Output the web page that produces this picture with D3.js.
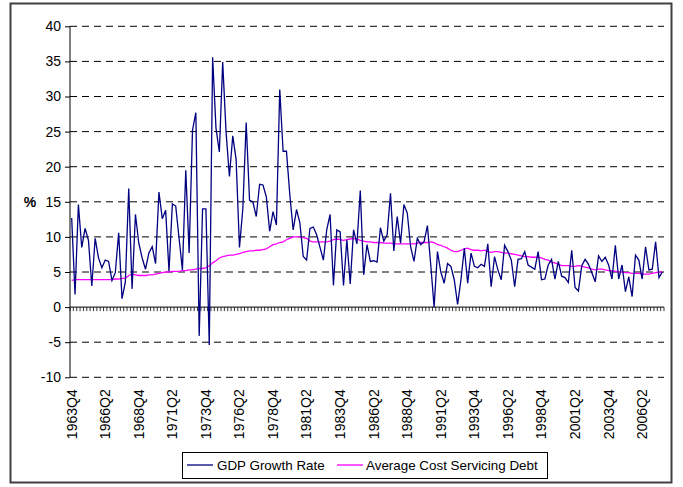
<!DOCTYPE html>
<html>
<head>
<meta charset="utf-8">
<script src="https://cdn.jsdelivr.net/npm/d3@7"></script>
<style>
  html, body { margin: 0; padding: 0; background: #fff; }
  svg { display: block; }
  text { font-family: Arial, "Liberation Sans", sans-serif; }
</style>
</head>
<body>
<svg id="chart" width="683" height="487"></svg>
<script>
// ---------- DATA ----------
const startYear = 1963;
const startQuarter = 4;
const gdpGrowth = [
  12.7, 1.8, 14.6, 8.5, 11.2, 9.5, 3.0, 9.8, 7.0, 5.6,
  6.7, 6.5, 3.8, 4.9, 10.6, 1.2, 3.6, 16.9, 2.6, 13.2,
  9.1, 7.0, 5.4, 7.7, 8.6, 6.2, 16.4, 12.6, 13.8, 5.1,
  14.7, 14.4, 9.8, 5.3, 19.5, 7.7, 25.2, 27.7, -4.1, 14.0,
  14.0, -5.4, 35.6, 25.5, 22.1, 34.9, 25.0, 18.6, 24.4, 21.0,
  8.5, 14.0, 26.3, 15.2, 15.0, 12.9, 17.5, 17.4, 15.7, 10.8,
  13.6, 11.7, 31.0, 22.2, 22.2, 16.0, 11.0, 13.9, 12.0, 7.2,
  6.7, 11.2, 11.4, 10.3, 8.5, 6.7, 11.0, 13.2, 3.1, 11.0,
  10.7, 3.1, 9.6, 3.3, 11.0, 9.0, 16.6, 4.6, 8.9, 6.5,
  6.6, 6.4, 11.3, 9.4, 10.3, 16.2, 8.0, 12.9, 9.1, 14.6,
  13.4, 8.6, 6.5, 9.8, 8.9, 9.3, 11.6, 6.0, 0.0, 7.9,
  5.0, 3.4, 6.2, 5.8, 3.9, 0.4, 3.9, 8.4, 3.4, 7.7,
  5.8, 5.6, 6.1, 5.8, 9.0, 2.9, 7.2, 5.3, 3.9, 8.8,
  7.9, 6.7, 2.9, 6.8, 6.9, 7.9, 6.0, 5.7, 5.4, 7.9,
  3.9, 4.0, 6.0, 6.8, 4.0, 6.5, 4.4, 4.2, 3.5, 8.1,
  2.8, 2.3, 5.9, 6.8, 6.1, 4.9, 3.6, 7.3, 6.5, 7.1,
  6.0, 4.0, 8.8, 4.0, 6.0, 2.2, 4.3, 1.5, 7.4, 6.7,
  4.0, 8.6, 5.3, 5.4, 9.3, 4.2, 5.0
];
const avgCostDebt = [
  3.8, 3.9, 3.9, 3.9, 3.9, 3.9, 3.9, 3.9, 3.9, 3.9,
  3.9, 3.9, 3.9, 4.0, 4.0, 4.1, 4.1, 4.5, 4.7, 4.6,
  4.5, 4.5, 4.5, 4.6, 4.6, 4.7, 4.8, 4.9, 5.0, 5.0,
  5.1, 5.1, 5.1, 5.2, 5.2, 5.3, 5.3, 5.4, 5.5, 5.5,
  5.6, 5.9, 6.3, 6.6, 7.0, 7.2, 7.3, 7.4, 7.4, 7.5,
  7.6, 7.8, 7.9, 8.0, 8.0, 8.1, 8.1, 8.2, 8.3, 8.6,
  8.9, 9.0, 9.2, 9.3, 9.6, 9.8, 10.0, 10.0, 10.0, 9.9,
  9.8, 9.4, 9.3, 9.3, 9.3, 9.3, 9.3, 9.4, 9.6, 9.7,
  9.6, 9.5, 9.6, 9.7, 9.8, 9.7, 9.5, 9.4, 9.3, 9.3,
  9.2, 9.2, 9.2, 9.1, 9.1, 9.1, 9.0, 9.0, 9.0, 9.0,
  9.0, 9.0, 9.0, 9.1, 9.2, 9.2, 9.2, 9.3, 9.2, 8.9,
  8.8, 8.6, 8.4, 8.1, 7.9, 7.9, 8.1, 8.3, 8.4, 8.2,
  8.1, 8.1, 8.0, 8.1, 7.9, 7.8, 7.9, 7.9, 7.8, 7.7,
  7.7, 7.6, 7.5, 7.4, 7.3, 7.2, 7.2, 7.1, 7.1, 7.1,
  7.0, 6.8, 6.7, 6.4, 6.3, 6.1, 5.9, 5.9, 5.9, 5.8,
  5.8, 5.9, 5.8, 5.7, 5.6, 5.4, 5.3, 5.4, 5.4, 5.3,
  5.2, 5.2, 5.1, 5.0, 5.0, 4.9, 4.9, 4.8, 4.8, 4.8,
  4.7, 4.7, 4.7, 4.8, 4.9, 5.0, 5.0
];
const tickLabels = ["1963Q4","1966Q2","1968Q4","1971Q2","1973Q4","1976Q2","1978Q4","1981Q2","1983Q4","1986Q2","1988Q4","1991Q2","1993Q4","1996Q2","1998Q4","2001Q2","2003Q4","2006Q2"];
const yTicks = [-10, -5, 0, 5, 10, 15, 20, 25, 30, 35, 40];
const seriesNames = ["GDP Growth Rate", "Average Cost Servicing Debt"];
const seriesColors = ["#000080", "#FF00FF"];

// categories (quarters)
const categories = [];
{
  let yr = startYear, q = startQuarter;
  for (let i = 0; i < gdpGrowth.length; i++) {
    categories.push(yr + "Q" + q);
    q++; if (q > 4) { q = 1; yr++; }
  }
}

// ---------- LAYOUT ----------
const FS = 14;
const LFS = 13.4;
const svg = d3.select("#chart");
const plot = { left: 70, right: 664, top: 26.3, bottom: 377.3 };

svg.append("rect").attr("x", 0).attr("y", 0).attr("width", 683).attr("height", 487).attr("fill", "#fff");
// outer chart border
svg.append("rect")
  .attr("x", 10.5).attr("y", 3.5).attr("width", 661).attr("height", 479)
  .attr("fill", "none").attr("stroke", "#404040").attr("stroke-width", 2);

const x = d3.scaleBand().domain(categories).range([plot.left, plot.right]).padding(0);
const y = d3.scaleLinear().domain([-10, 40]).range([plot.bottom, plot.top]);
const cx = c => x(c) + x.bandwidth() / 2;

// gridlines
svg.append("g").selectAll("line")
  .data(yTicks.filter(t => t !== 0))
  .join("line")
  .attr("x1", plot.left).attr("x2", plot.right)
  .attr("y1", d => y(d)).attr("y2", d => y(d))
  .attr("stroke", "#000").attr("stroke-width", 1)
  .attr("stroke-dasharray", "7,5");

// y axis
const yAxis = d3.axisLeft(y).tickValues(yTicks).tickSize(5).tickPadding(4).tickFormat(d => String(d));
const gy = svg.append("g").attr("transform", `translate(${plot.left},0)`).call(yAxis);
gy.select(".domain").attr("stroke", "#000").attr("d", `M0,${plot.top}V${plot.bottom}`);
gy.selectAll(".tick line").attr("stroke", "#000");
gy.selectAll(".tick text").attr("font-size", FS).attr("fill", "#000")
  .attr("font-family", "Arial, 'Liberation Sans', sans-serif");

// x axis at y=0 with ticks at category boundaries
const gx = svg.append("g").attr("transform", `translate(0,${y(0)})`);
gx.append("line").attr("x1", plot.left).attr("x2", plot.right).attr("y1", 0).attr("y2", 0)
  .attr("stroke", "#000").attr("stroke-width", 1);
const boundaries = categories.map(c => x(c)).concat([plot.right]);
gx.selectAll("line.tk").data(boundaries).join("line").attr("class", "tk")
  .attr("x1", d => d).attr("x2", d => d).attr("y1", 0).attr("y2", 4)
  .attr("stroke", "#000").attr("stroke-width", 0.8);

// x tick labels (rotated)
svg.append("g").selectAll("text")
  .data(tickLabels)
  .join("text")
  .attr("transform", d => `translate(${cx(d)},${plot.bottom + 12}) rotate(-90)`)
  .attr("text-anchor", "end")
  .attr("dy", "0.35em")
  .attr("font-size", FS)
  .attr("fill", "#000")
  .text(d => d);

// % label
svg.append("text").attr("x", 30).attr("y", y(15)).attr("dy", "0.35em")
  .attr("text-anchor", "middle").attr("font-size", FS).attr("font-weight", "bold").text("%");

// lines
const line = d3.line().x((d, i) => cx(categories[i])).y(d => y(d));
svg.append("path").datum(avgCostDebt).attr("d", line)
  .attr("fill", "none").attr("stroke", seriesColors[1]).attr("stroke-width", 1.3);
svg.append("path").datum(gdpGrowth).attr("d", line)
  .attr("fill", "none").attr("stroke", seriesColors[0]).attr("stroke-width", 1.3)
  .attr("stroke-linejoin", "miter");

// legend
const lg = svg.append("g");
lg.append("rect").attr("x", 182.5).attr("y", 452.5).attr("width", 365).attr("height", 26)
  .attr("fill", "#fff").attr("stroke", "#000").attr("stroke-width", 1);
const legendItems = [
  { name: seriesNames[0], color: seriesColors[0], lx: 187, tx: 217 },
  { name: seriesNames[1], color: seriesColors[1], lx: 337, tx: 366 }
];
legendItems.forEach(it => {
  lg.append("line").attr("x1", it.lx).attr("x2", it.lx + 26).attr("y1", 465).attr("y2", 465)
    .attr("stroke", it.color).attr("stroke-width", 1.3);
  lg.append("text").attr("x", it.tx).attr("y", 465).attr("dy", "0.35em")
    .attr("font-size", LFS).attr("fill", "#000").text(it.name);
});
</script>
</body>
</html>
